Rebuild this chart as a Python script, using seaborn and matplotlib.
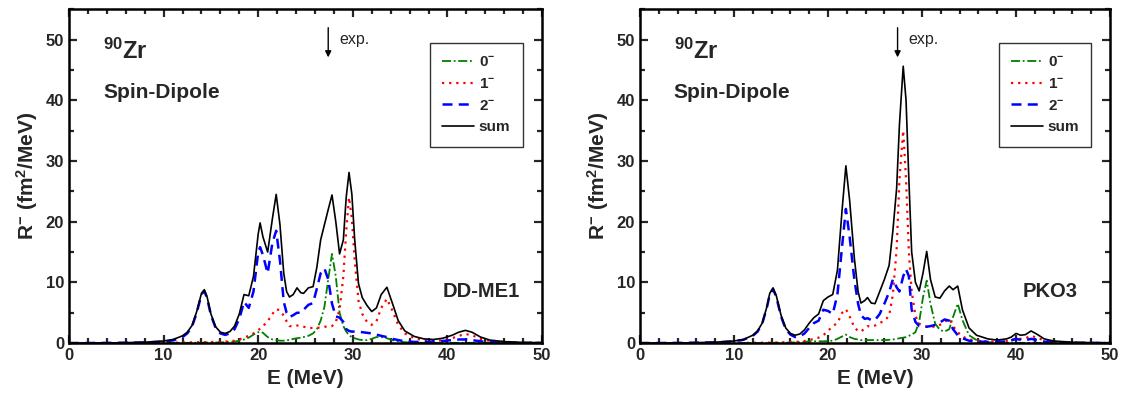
import numpy as np
import pandas as pd
import matplotlib
matplotlib.use("Agg")
import matplotlib.pyplot as plt
import seaborn as sns
from matplotlib.ticker import MultipleLocator

# energies (MeV) and strengths
e_left = [0, 5, 8, 10, 11, 12, 12.5, 13, 13.5, 14, 14.3, 14.6, 15, 15.5, 16, 16.5, 17, 17.5,
          18, 18.5, 19, 19.5, 20, 20.2, 20.5, 21, 21.5, 21.9, 22.3, 22.7, 23, 23.3, 23.7, 24.1,
          24.5, 24.8, 25.3, 25.8, 26.2, 26.6, 27, 27.4, 27.8, 28.2, 28.6, 29, 29.3, 29.6, 29.9,
          30.2, 30.6, 31, 31.5, 32, 32.5, 33, 33.6, 34.2, 34.8, 35.5, 36.5, 37.5, 38.5, 39.5,
          40.5, 41.2, 41.9, 42.6, 43.5, 44.5, 46, 48, 50]
sum_left = [0, 0.05, 0.15, 0.35, 0.6, 1.2, 1.8, 2.9, 5.2, 8.2, 8.8, 7.6, 4.8, 2.7, 1.8, 1.6, 1.9, 2.8,
            4.8, 8.0, 7.8, 11.0, 18.0, 19.8, 17.5, 15.0, 20.5, 24.5, 19.5, 11.5, 8.5, 7.6, 8.0, 9.1,
            8.3, 8.2, 9.1, 9.3, 12.5, 17.0, 19.5, 22.0, 24.4, 20.0, 14.7, 17.0, 24.0, 28.1, 24.5,
            17.0, 9.8, 7.5, 6.2, 5.2, 5.8, 8.0, 9.2, 6.5, 3.7, 2.0, 1.1, 0.7, 0.6, 0.8,
            1.3, 1.8, 2.1, 1.8, 1.0, 0.5, 0.25, 0.12, 0.08]
j2_left = [0, 0.05, 0.1, 0.25, 0.45, 1.0, 1.6, 2.7, 5.0, 8.0, 8.6, 7.4, 4.6, 2.5, 1.6, 1.35, 1.6, 2.3,
           4.0, 6.8, 5.8, 8.5, 15.0, 15.8, 14.5, 11.5, 16.5, 18.5, 13.6, 6.8, 5.0, 4.3, 4.6, 5.0,
           5.0, 5.5, 6.3, 6.6, 9.0, 11.5, 12.3, 10.5, 6.5, 4.4, 4.2, 3.5, 2.3, 2.0, 1.9,
           1.9, 1.9, 1.8, 1.7, 1.6, 1.4, 1.2, 1.0, 0.7, 0.5, 0.3, 0.2, 0.2, 0.25, 0.35,
           0.5, 0.6, 0.6, 0.5, 0.3, 0.15, 0.08, 0.04, 0.03]
j1_left = [0, 0, 0.02, 0.05, 0.07, 0.1, 0.1, 0.12, 0.13, 0.15, 0.16, 0.17, 0.18, 0.2, 0.22, 0.25, 0.3, 0.4,
           0.6, 0.9, 1.2, 1.6, 2.1, 2.4, 2.8, 3.6, 4.8, 5.6, 5.4, 4.5, 3.6, 2.8, 2.8, 2.9,
           2.8, 2.7, 2.5, 2.5, 2.5, 2.6, 2.7, 2.7, 2.8, 3.5, 5.5, 11.0, 18.5, 24.0, 20.5,
           13.6, 7.0, 4.8, 3.5, 3.0, 3.6, 5.8, 7.3, 5.3, 3.0, 1.6, 0.8, 0.5, 0.4, 0.45,
           0.8, 1.2, 1.5, 1.3, 0.7, 0.35, 0.15, 0.08, 0.05]
j0_left = [0, 0, 0.01, 0.03, 0.05, 0.05, 0.05, 0.06, 0.07, 0.08, 0.08, 0.09, 0.1, 0.1, 0.12, 0.15, 0.2, 0.25,
           0.4, 0.6, 0.9, 1.4, 1.8, 1.9, 1.7, 1.0, 0.6, 0.5, 0.4, 0.4, 0.5, 0.5, 0.7, 0.8,
           0.9, 1.0, 1.2, 1.6, 2.3, 3.7, 6.0, 10.5, 14.7, 11.0, 5.0, 2.8, 1.9, 1.3, 1.0,
           0.8, 0.6, 0.5, 0.5, 0.7, 1.0, 1.0, 0.8, 0.5, 0.3, 0.15, 0.1, 0.05, 0.05, 0.05,
           0.05, 0.05, 0.05, 0.05, 0.03, 0.02, 0.01, 0.01, 0.0]

e_right = [0, 5, 8, 10, 11, 12, 12.5, 13, 13.5, 13.8, 14.15, 14.5, 15, 15.5, 16, 16.5, 17, 17.5,
           18, 18.5, 19, 19.5, 20, 20.5, 21, 21.5, 21.9, 22.3, 22.8, 23.2, 23.5, 23.9, 24.2, 24.6,
           25, 25.5, 26, 26.5, 26.9, 27.3, 27.6, 28, 28.3, 28.6, 28.9, 29.3, 29.7, 30.1, 30.5,
           30.9, 31.4, 31.9, 32.4, 32.9, 33.3, 33.8, 34.3, 35, 35.8, 37, 38, 39, 39.5, 40,
           40.5, 41, 41.6, 42.2, 43, 44, 46, 48, 50]
sum_right = [0, 0.05, 0.15, 0.35, 0.6, 1.3, 2.0, 3.3, 6.0, 8.2, 9.1, 7.8, 4.6, 2.5, 1.6, 1.3, 1.5, 2.2,
             3.3, 4.2, 4.8, 7.0, 7.6, 8.0, 12.0, 22.0, 29.2, 23.5, 14.0, 8.5, 6.6, 7.0, 7.5, 6.6,
             6.5, 8.5, 10.5, 12.8, 18.5, 25.5, 36.0, 45.6, 40.0, 27.0, 15.0, 10.0, 8.6, 11.5, 15.1,
             10.5, 7.6, 7.4, 8.6, 9.4, 8.8, 9.4, 5.5, 2.5, 1.3, 0.7, 0.5, 0.7, 1.0, 1.6,
             1.3, 1.4, 2.0, 1.5, 0.7, 0.35, 0.15, 0.08, 0.05]
j2_right = [0, 0.05, 0.12, 0.3, 0.55, 1.2, 1.9, 3.2, 5.9, 8.0, 8.9, 7.6, 4.4, 2.3, 1.4, 1.0, 1.1, 1.6,
            2.5, 3.3, 3.7, 5.5, 5.3, 4.8, 8.0, 16.0, 22.1, 17.5, 10.5, 6.5, 4.6, 4.0, 4.1, 3.8,
            3.8, 4.8, 6.5, 8.4, 10.5, 9.2, 8.5, 11.0, 12.2, 11.0, 5.5, 3.5, 2.8, 2.7, 2.7,
            2.8, 3.0, 3.4, 3.9, 3.7, 2.3, 1.3, 0.8, 0.4, 0.25, 0.2, 0.2, 0.3, 0.45, 0.7,
            0.55, 0.5, 0.7, 0.5, 0.25, 0.12, 0.05, 0.03, 0.02]
j1_right = [0, 0, 0.02, 0.03, 0.04, 0.05, 0.06, 0.07, 0.08, 0.08, 0.09, 0.1, 0.12, 0.14, 0.17, 0.2, 0.25, 0.35,
            0.5, 0.7, 0.9, 1.3, 2.0, 2.8, 3.3, 5.0, 5.6, 4.4, 2.6, 2.0, 1.9, 2.4, 2.8, 2.7,
            2.9, 3.3, 3.7, 4.5, 8.0, 15.5, 27.0, 35.0, 27.0, 15.0, 8.5, 4.5, 3.2, 2.9, 2.7,
            2.7, 2.7, 3.0, 3.5, 4.0, 2.8, 1.8, 1.1, 0.6, 0.4, 0.3, 0.2, 0.35, 0.5, 0.8,
            0.7, 0.8, 1.2, 0.9, 0.45, 0.2, 0.08, 0.04, 0.03]
j0_right = [0, 0, 0.01, 0.02, 0.02, 0.03, 0.03, 0.04, 0.04, 0.05, 0.05, 0.05, 0.06, 0.08, 0.1, 0.12, 0.15, 0.2,
            0.3, 0.3, 0.3, 0.3, 0.35, 0.4, 0.7, 1.1, 1.4, 1.0, 0.7, 0.6, 0.5, 0.5, 0.5, 0.5,
            0.5, 0.5, 0.5, 0.55, 0.6, 0.7, 0.8, 0.9, 1.0, 1.2, 1.4, 1.8, 3.5, 7.5, 10.3,
            6.5, 3.2, 2.2, 1.9, 2.3, 4.3, 6.5, 3.8, 1.3, 0.5, 0.15, 0.1, 0.05, 0.05, 0.05,
            0.05, 0.05, 0.05, 0.05, 0.03, 0.02, 0.01, 0.01, 0.0]

exp_energy = 27.4
panels = [("DD-ME1", e_left, j0_left, j1_left, j2_left, sum_left),
          ("PKO3", e_right, j0_right, j1_right, j2_right, sum_right)]

sns.set_style("ticks")
plt.rcParams['font.family'] = ['Liberation Sans', 'DejaVu Sans']
plt.rcParams['font.weight'] = 'bold'
plt.rcParams['mathtext.fontset'] = 'custom'
plt.rcParams['mathtext.rm'] = 'Liberation Sans:bold'
plt.rcParams['mathtext.bf'] = 'Liberation Sans:bold'
plt.rcParams['mathtext.it'] = 'Liberation Sans:bold'
plt.rcParams['mathtext.default'] = 'bf'

fig = plt.figure(figsize=(11.33, 4.08), dpi=100)
boxes = [[0.0609, 0.159, 0.4175, 0.8186], [0.5649, 0.159, 0.4148, 0.8186]]

styles = [("0$^{-}$", "#008000", (0, (5, 1.5, 1, 1.5)), 1.3),
          ("1$^{-}$", "#ff0000", (0, (1, 2.2)), 1.6),
          ("2$^{-}$", "#0000ff", (0, (4, 2.5)), 1.8),
          ("sum", "black", "-", 1.2)]

for box, (model, e, j0, j1, j2, tot) in zip(boxes, panels):
    ax = fig.add_axes(box)
    for (lab, col, ls, lw), vals in zip(styles, [j0, j1, j2, tot]):
        sns.lineplot(x=e, y=vals, ax=ax, color=col, linestyle=ls, lw=lw, label=lab)
    ax.set_xlim(0, 50)
    ax.set_ylim(0, 55)
    ax.xaxis.set_major_locator(MultipleLocator(10))
    ax.xaxis.set_minor_locator(MultipleLocator(2))
    ax.yaxis.set_major_locator(MultipleLocator(10))
    ax.yaxis.set_minor_locator(MultipleLocator(5))
    ax.tick_params(which='both', direction='in', top=True, right=True, width=1.6,
                   labelsize=12)
    ax.tick_params(which='major', length=6)
    ax.tick_params(which='minor', length=3.5)
    for s in ax.spines.values():
        s.set_linewidth(1.8)
        s.set_color('black')
    ax.set_xlabel("E (MeV)", fontsize=15, fontweight='bold')
    ax.set_ylabel("R$^{-}$ (fm$^{2}$/MeV)", fontsize=15, fontweight='bold', labelpad=4)

    ax.text(3.6, 48, "$^{90}$Zr", fontsize=17, fontweight='bold', va='center')
    ax.text(3.6, 41.2, "Spin-Dipole", fontsize=15, fontweight='bold', va='center')
    ax.text(39.5 if model == "DD-ME1" else 40.7, 8.5, model, fontsize=14.5,
            fontweight='bold', va='center')
    ax.annotate("", xy=(exp_energy, 46.6), xytext=(exp_energy, 52.4),
                arrowprops=dict(arrowstyle='-|>', color='black', lw=1.0,
                                mutation_scale=9))
    ax.text(exp_energy + 1.2, 50.0, "exp.", fontsize=11.5, fontweight='normal',
            va='center')

    leg = ax.legend(loc='upper left', bbox_to_anchor=(0.763, 0.898), frameon=True,
                    fancybox=False, edgecolor='black', fontsize=11, handlelength=2.1,
                    handletextpad=0.3, borderpad=0.8, labelspacing=0.5,
                    borderaxespad=0)
    leg.get_frame().set_linewidth(1.0)

fig.savefig("out.png", dpi=100)
